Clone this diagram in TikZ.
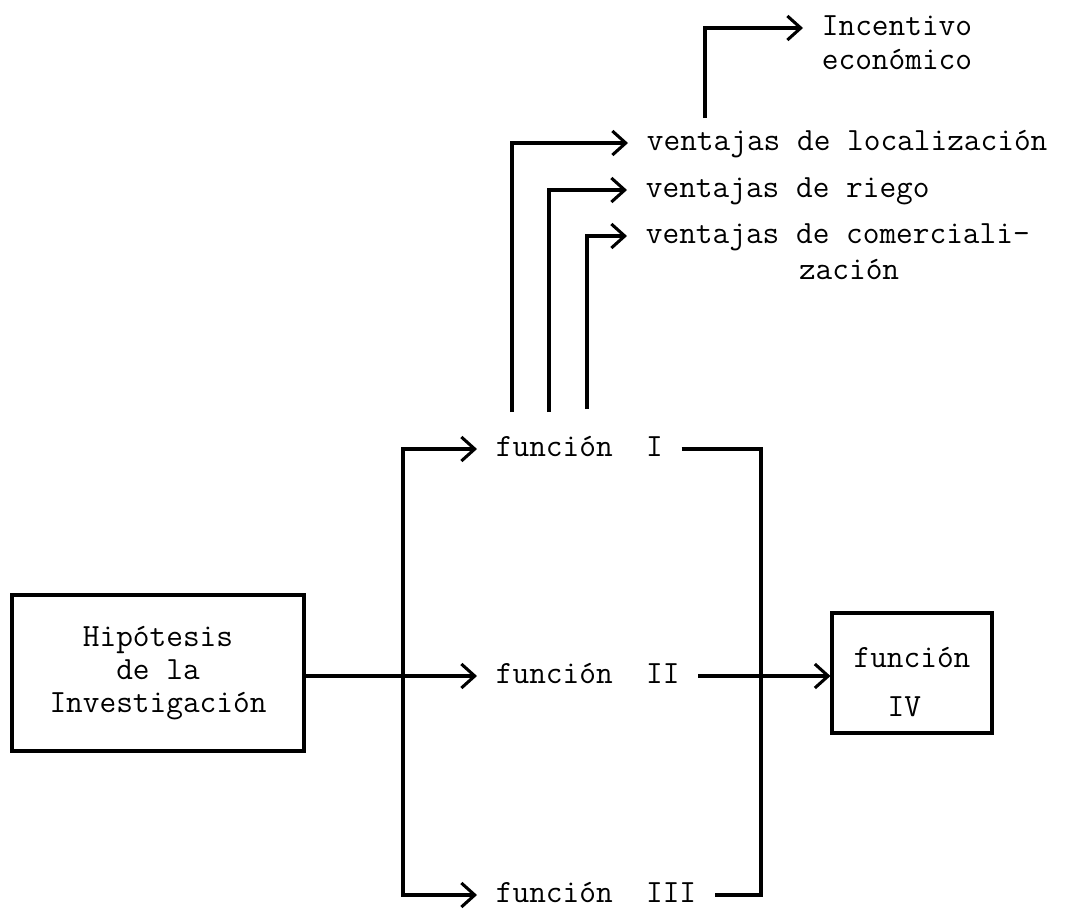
\documentclass[tikz,border=0pt]{standalone}
\usepackage{fontspec}
\usetikzlibrary{arrows.meta}

% two stacked lines sharing the first line's baseline
\newcommand{\twoline}[3][0pt]{\begin{tabular}[t]{@{}l@{}}#2\\[#1]#3\end{tabular}}

\begin{document}
\begin{tikzpicture}[x=0.75pt,y=-0.75pt,
  every node/.style={font=\fontsize{24.3pt}{24.5pt}\selectfont\ttfamily\addfontfeatures{FakeBold=1.5}},
  wire/.style={line width=2.3pt},
  flow/.style={wire,-{Straight Barb[length=10pt,width=18pt]}},
  txt/.style={anchor=west,inner xsep=14pt,inner ysep=0pt,
              text height=10.5pt,text depth=0pt},
  boxed/.style={draw,line width=2.3pt,inner sep=0pt}
]
\useasboundingbox (0,0) rectangle (1065,911);

% boxes
\node[boxed,align=center,minimum width=219pt,minimum height=117pt] (hyp)
  at (158,673) {Hipótesis\\de la\\Investigación};
\node[boxed,align=left,minimum width=120pt,minimum height=90pt] (f4)
  at (912,673) {\rule{0pt}{29pt}función\\[12.25pt]\hspace*{1.05em}IV};

% the three functions
\node[txt] (f1) at (477,449) {función~~I};
\node[txt] (f2) at (477,676) {función~~II};
\node[txt] (f3) at (477,895) {función~~III};

% advantages and incentive
\node[txt] (v1) at (628,143) {ventajas de localización};
\node[txt] (v2) at (627,190) {ventajas de riego};
\node[txt] (v3) at (627,236) {\twoline[2.5pt]{ventajas de comerciali-}{\hspace*{4.725em}zación}};
\node[txt] (inc) at (803,28) {\twoline[1.5pt]{Incentivo}{económico}};

% branch points
\coordinate (tx) at (403,0);
\coordinate (rx) at (761,0);
\coordinate (s1) at (512,412);
\coordinate (s2) at (549,412);
\coordinate (s3) at (587,409);
\coordinate (s4) at (705,118);

% hypothesis to the functions
\draw[flow] (hyp.east |- f2.west) -- (f2.west);
\draw[flow] (tx |- f2.west) |- (f1.west);
\draw[flow] (tx |- f2.west) |- (f3.west);

% functions to function IV
\draw[wire] (f1.east) -| (rx |- f2.west);
\draw[wire] (f3.east) -| (rx |- f2.west);
\draw[flow] (f2.east) -- (f2.east -| f4.west);

% function I to its advantages
\draw[flow] (s1) |- (v1.west);
\draw[flow] (s2) |- (v2.west);
\draw[flow] (s3) |- (v3.west);
\draw[flow] (s4) |- (inc.west);
\end{tikzpicture}
\end{document}
